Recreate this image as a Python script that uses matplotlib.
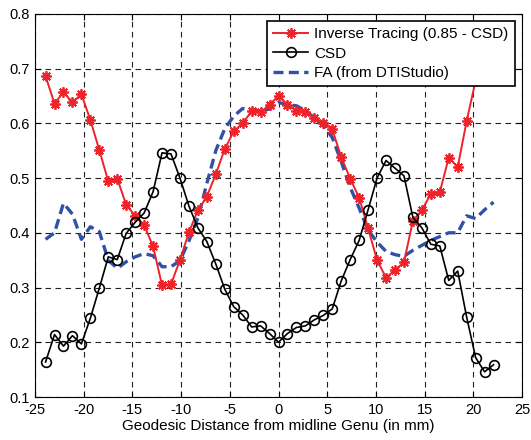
import matplotlib
matplotlib.use("Agg")
import matplotlib.pyplot as plt

plt.rcParams['font.family'] = ['Liberation Sans', 'DejaVu Sans']

# Sample positions along the geodesic (mm)
distance_mm = [-23.92, -23.00, -22.08, -21.16, -20.24, -19.32, -18.40, -17.48, -16.56,
               -15.64, -14.72, -13.80, -12.88, -11.96, -11.04, -10.12, -9.20, -8.28,
               -7.36, -6.44, -5.52, -4.60, -3.68, -2.76, -1.84, -0.92, 0.00, 0.92,
               1.84, 2.76, 3.68, 4.60, 5.52, 6.44, 7.36, 8.28, 9.20, 10.12, 11.04,
               11.96, 12.88, 13.80, 14.72, 15.64, 16.56, 17.48, 18.40, 19.32, 20.24,
               21.16, 22.08]

csd = [0.164, 0.214, 0.193, 0.212, 0.197, 0.244, 0.299, 0.356, 0.351, 0.399, 0.419,
       0.436, 0.475, 0.546, 0.544, 0.500, 0.449, 0.409, 0.384, 0.343, 0.297, 0.265,
       0.250, 0.228, 0.230, 0.216, 0.200, 0.216, 0.227, 0.230, 0.241, 0.249, 0.261,
       0.312, 0.351, 0.386, 0.442, 0.500, 0.532, 0.518, 0.504, 0.428, 0.409, 0.379,
       0.376, 0.313, 0.330, 0.246, 0.172, 0.146, 0.159]

inverse_tracing = [0.686, 0.636, 0.657, 0.638, 0.653, 0.606, 0.551, 0.494, 0.499,
                   0.451, 0.431, 0.414, 0.375, 0.304, 0.306, 0.350, 0.401, 0.441,
                   0.466, 0.507, 0.553, 0.585, 0.600, 0.622, 0.620, 0.634, 0.650,
                   0.634, 0.623, 0.620, 0.609, 0.601, 0.589, 0.538, 0.499, 0.464,
                   0.408, 0.350, 0.318, 0.332, 0.346, 0.422, 0.441, 0.471, 0.474,
                   0.537, 0.520, 0.604, 0.678, 0.704, 0.691]

fa = [0.388, 0.400, 0.454, 0.434, 0.388, 0.411, 0.402, 0.350, 0.335, 0.347, 0.356,
      0.362, 0.358, 0.338, 0.338, 0.349, 0.385, 0.427, 0.490, 0.550, 0.590, 0.613,
      0.627, 0.624, 0.622, 0.626, 0.638, 0.634, 0.632, 0.623, 0.610, 0.596, 0.574,
      0.530, 0.483, 0.445, 0.405, 0.383, 0.366, 0.360, 0.357, 0.368, 0.377, 0.386,
      0.393, 0.400, 0.400, 0.431, 0.426, 0.442, 0.456]

labels = ['Inverse Tracing (0.85 - CSD)', 'CSD', 'FA (from DTIStudio)']
x_ticks = [-25, -20, -15, -10, -5, 0, 5, 10, 15, 20, 25]
y_ticks = [0.1, 0.2, 0.3, 0.4, 0.5, 0.6, 0.7, 0.8]

fig = plt.figure(figsize=(5.31, 4.40), dpi=100)
ax = fig.add_axes([0.066, 0.0977, 0.917, 0.871])

ax.plot(distance_mm, inverse_tracing, color='#ee2229', lw=1.4, marker=(8, 2, 0),
        markersize=7.5, markeredgewidth=1.3, label=labels[0], zorder=3)
ax.plot(distance_mm, csd, color='black', lw=1.2, marker='o', markersize=7,
        fillstyle='none', markeredgewidth=1.2, label=labels[1], zorder=4)
ax.plot(distance_mm, fa, color='#2f52a8', lw=2.4, linestyle=(0, (3, 1.6)),
        label=labels[2], zorder=2)

ax.set_xlim(-25, 25)
ax.set_ylim(0.1, 0.8)
ax.set_xticks(x_ticks)
ax.set_yticks(y_ticks)
ax.set_xticklabels([str(t) for t in x_ticks])
ax.set_yticklabels([f'{t:.1f}' for t in y_ticks])
ax.tick_params(direction='in', top=True, right=True, length=4, width=0.8,
               labelsize=10.5, pad=4)
ax.grid(True, color='#222222', linestyle=(0, (5, 4)), linewidth=0.8)
ax.set_axisbelow(True)
for s in ax.spines.values():
    s.set_linewidth(0.8)
    s.set_color('black')

ax.set_xlabel('Geodesic Distance from midline Genu (in mm)', fontsize=11, labelpad=2)

leg = ax.legend(loc='upper right', fontsize=11, fancybox=False, framealpha=1,
                edgecolor='black', handlelength=2.3, borderpad=0.42,
                labelspacing=0.36, handletextpad=0.4, borderaxespad=0.45)
leg.get_frame().set_linewidth(1.2)
leg.set_zorder(10)

fig.savefig('out.png', dpi=100)
